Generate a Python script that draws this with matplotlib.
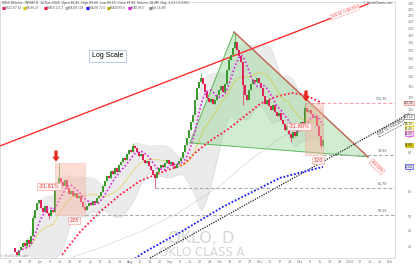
import numpy as np
import pandas as pd
import matplotlib
matplotlib.use('Agg')
import matplotlib.pyplot as plt
from matplotlib.patches import Rectangle, Polygon

# daily closes (one per session, mid-May -> mid-Dec 2025)
closes = [38.5, 37.7, 39.1, 40.0, 41.2, 40.3, 42.1, 40.9, 43.4, 49.4,
          52.5, 55.3, 56.5, 53.3, 51.7, 54.1, 51.3, 50.2, 52.5, 51.7,
          60.8, 64.0, 66.4, 64.4, 62.6, 65.4, 61.7, 59.0, 60.4, 58.2,
          59.5, 57.3, 58.2, 55.7, 53.7, 52.5, 54.1, 55.3, 54.5, 56.1,
          55.3, 57.3, 58.2, 60.0, 62.6, 64.9, 67.4, 66.4, 69.9, 68.4,
          71.4, 69.4, 73.1, 74.7, 76.9, 75.8, 79.2, 81.6, 80.4, 84.0,
          82.8, 80.4, 78.0, 79.2, 75.8, 74.1, 75.2, 72.5, 70.4, 67.8,
          66.4, 69.4, 71.4, 73.1, 72.0, 74.1, 75.8, 73.6, 74.7, 72.5,
          71.4, 73.6, 75.2, 76.9, 80.4, 84.6, 89.1, 94.5, 100.2, 105.6,
          117.9, 128.8, 134.6, 138.6, 132.6, 125.0, 119.7, 116.2, 118.8, 114.5,
          117.9, 122.3, 126.9, 130.7, 125.0, 132.6, 147.0, 158.2, 164.1, 172.9,
          180.6, 170.3, 163.0, 155.9, 131.7, 122.3, 117.9, 126.9, 132.6, 136.6,
          134.6, 138.6, 133.6, 128.8, 121.4, 114.5, 117.9, 112.8, 109.5, 113.6,
          107.9, 104.8, 107.1, 101.7, 98.7, 94.5, 97.3, 91.8, 89.1, 93.1,
          90.4, 94.5, 97.3, 100.2, 98.7, 111.1, 107.9, 109.5, 106.3, 103.2,
          104.8, 97.3, 90.4, 84.0, 87.8]
first_open = 39.5
wick_hi = {9: 50.5, 22: 74.1, 59: 86.0, 93: 143.8, 107: 162.0, 110: 193.0, 145: 115.3}
wick_lo = {17: 48.9, 70: 61.7, 114: 113.6, 138: 86.5, 153: 82.5}

# longer moving averages (history not shown)
sma50_x = [23.5, 32.5, 42.5, 52.5, 62.5, 72.5, 84, 90, 97.5, 106, 115, 122.5, 130, 138.5, 145, 153.5]
sma50_y = [37.7, 44.6, 51.7, 58.6, 64.9, 68.9, 73.1, 79.8, 87.2, 94.5, 104.8, 114.5, 120.5, 124.1, 122.3, 115.3]
sma100_x = [25, 42.5, 62.5, 82.5, 102.5, 117.5, 132.5, 153.5]
sma100_y = [36.3, 39.7, 44.6, 51.7, 62.6, 75.8, 89.1, 103.2]
sma200_x = [60, 64, 84, 104, 132.5, 154]
sma200_y = [36.6, 38.2, 45.0, 53.7, 66.4, 72.0]

# drawn objects
res_x = [-7.5, 176.5]
res_y = [84.0, 239.0]
sup_x = [67.5, 197.5]
sup_y = [36.8, 107.0]
tri_x = [87.5, 109.5, 176.5]
tri_y = [85.9, 194.4, 77.5]
levels = [115.3, 78.6, 61.7, 50.5]
level_start = [145, 154, 70, 35]
boxes = [(20, 35, 74.1, 50.5, '-31.81%', '225'), (145, 154, 115.3, 78.6, '-31.80%', '120')]

tick_lab = ['12', '19', '27', 'Jun', '9', '16', '23', '30', 'Jul', '14', '21', '28', 'Aug',
            '11', '18', '25', 'Sep', '8', '15', '22', '29', 'Oct', '13', '20', '27', 'Nov',
            '10', '17', '24', 'Dec', '8', '15', '22', '29', '2026', '12', '20', '26', 'Feb']
price_ticks = [40, 45, 50, 60, 70, 80, 90, 110, 120, 130, 140, 150, 160, 170, 180, 190, 200, 210, 220, 230, 240]

n = len(closes)
idx = np.arange(n)
c = np.array(closes)
o = np.r_[first_open, c[:-1]]
hi = np.maximum(o, c)
lo = np.minimum(o, c)
for k, v in wick_hi.items():
    hi[k] = v
for k, v in wick_lo.items():
    lo[k] = v

s = pd.Series(c)
mid = s.rolling(20, min_periods=5).mean()
sd = s.rolling(20, min_periods=5).std()
upper = mid + 1.7 * sd
lower = mid - 1.7 * sd
fast = s.rolling(8, min_periods=3).mean()

fig = plt.figure(figsize=(4.2, 2.65), dpi=100)
ax = fig.add_axes([0, 7 / 265, 395 / 420, 256 / 265])
ax.set_yscale('log')
ax.set_xlim(-7.5, 190)
ax.set_ylim(36.8, 242.5)

# bollinger cloud
ax.fill_between(idx, lower, upper, color='#ebebeb', lw=0, zorder=1)
ax.plot(idx, upper, color='#d8d8d8', lw=0.4, zorder=1)
ax.plot(idx, lower, color='#d8d8d8', lw=0.4, zorder=1)

# triangle
ax.add_patch(Polygon(list(zip(tri_x, tri_y)), closed=True, facecolor='#9ad89a', alpha=0.45,
                     edgecolor='none', zorder=2))
ax.plot(tri_x[:2], tri_y[:2], color='#5cb85c', lw=0.7, zorder=3)
ax.plot([tri_x[0], tri_x[2]], [tri_y[0], tri_y[2]], color='#5cb85c', lw=0.7, zorder=3)
ax.plot(tri_x[1:], tri_y[1:], color='#c0604d', lw=1.0, zorder=3)

# lines
ax.plot(res_x, res_y, color='#ff3030', lw=1.0, zorder=3)
ax.plot(sup_x, sup_y, color='#222222', lw=0.9, ls=(0, (1, 1)), zorder=3, clip_on=False)
ax.plot(sma200_x, sma200_y, color='#1a1aff', lw=1.3, ls=(0, (1, 1)), zorder=3)
ax.plot(sma50_x, sma50_y, color='#ff1a40', lw=1.3, ls=(0, (1, 1.2)), zorder=3)
ax.plot(sma100_x, sma100_y, color='#b0b0b0', lw=0.5, ls=(0, (1, 1)), zorder=3)
ax.plot(idx, mid, color='#d8c400', lw=0.5, ls=(0, (2, 1)), zorder=3)
ax.plot(idx, fast, color='#e020e0', lw=1.2, ls=(0, (1, 1.3)), zorder=5)

# candles
up = c >= o
col = np.where(up, '#3c9a2e', '#e0245a')
ax.vlines(idx, lo, hi, colors=col, lw=0.5, zorder=4)
ax.bar(idx, np.maximum(np.abs(c - o), c * 0.006), bottom=np.minimum(o, c), width=0.75,
       color=col, lw=0, zorder=4)

# levels
for lv, st in zip(levels, level_start):
    colr = '#f4a0a8' if lv > 100 else '#a8a8a8'
    ax.plot([st, 190], [lv, lv], color=colr, lw=0.8, ls=(0, (3, 2)), zorder=3)
    ax.text(186, lv * 1.012, f'{lv:.2f}', fontsize=2.3, color='#555555', ha='right', va='bottom', zorder=6)

# measure boxes + arrows
for x0, x1, top, bot, pct, bars in boxes:
    ax.add_patch(Rectangle((x0, bot), x1 - x0, top - bot, facecolor='#f7b5a0', alpha=0.45,
                           edgecolor='#f08080', lw=0.5, ls='--', zorder=5))
    ax.annotate('', xy=(x0 + 0.5, top * 1.01), xytext=(0, 8), textcoords='offset points',
                arrowprops=dict(facecolor='#e8261c', edgecolor='none', width=2.3, headwidth=5.5,
                                headlength=3.5, shrink=0), zorder=7)
    ax.text(x0 - 3, (top * bot) ** 0.5 * 1.02, pct, fontsize=3.6, color='#e53935', ha='center',
            va='center', zorder=7,
            bbox=dict(boxstyle='square,pad=0.25', fc='#fff0f0', ec='#f19a9a', lw=0.4))
    ax.text((x0 + x1) / 2 + 2, bot * 0.975, bars, fontsize=3.6, color='#e53935', ha='center',
            va='top', zorder=7,
            bbox=dict(boxstyle='square,pad=0.2', fc='#fff0f0', ec='#f19a9a', lw=0.4))

# line labels
ax.text(165, 225, '224.61 (+60.3%)', fontsize=2.4, color='#ff3030', rotation=21, ha='center',
        va='center', zorder=7, bbox=dict(boxstyle='square,pad=0.2', fc='white', ec='#ff8080', lw=0.4, ls='--'))
ax.text(188, 96, '104.72 (+89.4%)', fontsize=2.3, color='#333333', rotation=28, ha='center',
        va='center', zorder=7, clip_on=False,
        bbox=dict(boxstyle='square,pad=0.2', fc='white', ec='#444444', lw=0.4, ls='--'))
ax.text(181, 72.0, '-60.13%', fontsize=2.6, color='#ff3030', rotation=-45, ha='center',
        va='center', zorder=7, bbox=dict(boxstyle='square,pad=0.3', fc='#fff5f5', ec='#ff8080', lw=0.4, ls='--'))

ax.text(0.272, 0.79, 'Log Scale', transform=ax.transAxes, fontsize=5, family='Liberation Sans',
        ha='center', va='center', zorder=8,
        bbox=dict(boxstyle='square,pad=0.35', fc='white', ec='#9ab6d8', lw=0.5))

# watermark
ax.text(0.51, 0.078, 'OKLO, D', transform=ax.transAxes, fontsize=11.5, color='#d6d6d6',
        ha='center', va='center', zorder=2)
ax.text(0.51, 0.022, 'OKLO CLASS A', transform=ax.transAxes, fontsize=8.5, color='#d6d6d6',
        ha='center', va='center', zorder=2)

# axes styling
ax.set_xticks([-2.5 + 5 * k for k in range(len(tick_lab))])
ax.set_xticklabels(tick_lab)
ax.yaxis.tick_right()
ax.set_yticks(price_ticks)
ax.set_yticklabels([str(p) for p in price_ticks])
ax.yaxis.set_minor_locator(matplotlib.ticker.NullLocator())
ax.tick_params(axis='x', length=0, pad=1.2, labelsize=2.4, labelcolor='#777777')
ax.tick_params(axis='y', length=0, pad=9, labelsize=2.4, labelcolor='#777777')
for sp in ax.spines.values():
    sp.set_color('#d0d0d0')
    sp.set_linewidth(0.5)

# right-axis value tags
tags = [(115.3, '115.30', '#fde0e0', '#ff6b6b'), (104.1, '104.10', 'white', '#555555'),
        (98.7, '98.70', '#fffbd0', '#d8c400'), (95.4, '95.40', '#fffbd0', '#d8c400'),
        (92.0, '92.00', '#fbd5fb', '#e020e0'), (84.6, '84.60', '#d8c400', '#b8a400'),
        (72.0, '72.04', '#dde3ff', '#1a1aff')]
for p, t, fc, ec in tags:
    ax.text(1.035, np.log(p / 36.8) / np.log(242.5 / 36.8), t, transform=ax.transAxes, fontsize=2.0,
            ha='center', va='center', clip_on=False, color='#333333',
            bbox=dict(boxstyle='square,pad=0.15', fc=fc, ec=ec, lw=0.4))

# header
fig.text(0.005, 0.988, 'OKLO Oklo Inc. (NYSE) D  12-Dec-2025  Open 86.45  High 89.60  Low 83.10  Close 87.82  Volume 18.4M  Chg -3.21 (-3.53%)',
         fontsize=2.2, color='#444444', va='center')
legend = [('#e0245a', 'OKLO 87.82'), ('#d8c400', 'BB 96.47'), ('#ff1a40', 'MA50 115.3'),
          ('#b0b0b0', 'MA100 102'), ('#1a1aff', 'MA200 72.0'), ('#b8a400', 'MA20 99.6'),
          ('#e020e0', 'MA8 96.5'), ('#888888', 'Vol 18.4M')]
xx = 0.003
for colr, lab in legend:
    fig.text(xx, 0.968, '\u25a0', fontsize=3, color=colr, va='center')
    fig.text(xx + 0.009, 0.968, lab, fontsize=2.0, color='#555555', va='center')
    xx += 0.05
fig.text(0.935, 0.988, '\u00a9 StockCharts.com', fontsize=2.2, color='#444444', ha='right', va='center')
fig.text(0.003, 0.033, '\u00a9 StockCharts.com', fontsize=2, color='#888888', va='center')

fig.savefig('out.png', dpi=100)
